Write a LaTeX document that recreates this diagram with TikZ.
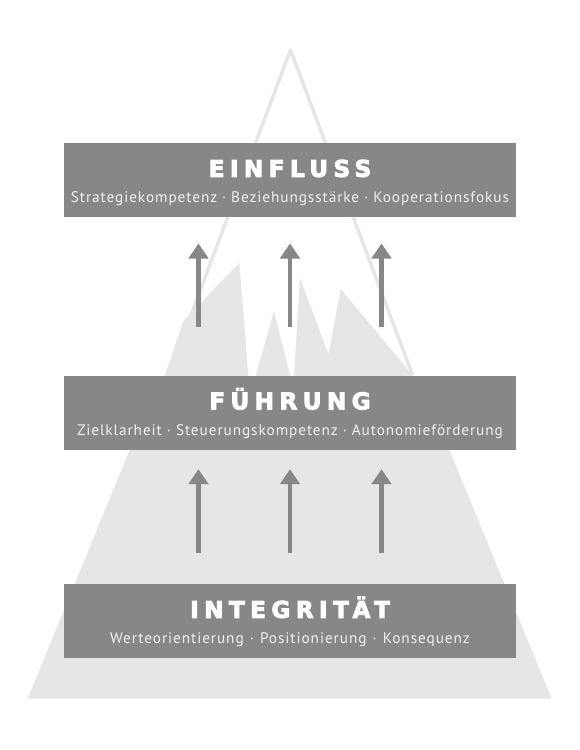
\documentclass[tikz,border=0pt]{standalone}
\usepackage{fontspec}
\usepackage{tikz}
\setmainfont{Liberation Sans}
\newfontfamily\headfont{DejaVu Sans}[LetterSpace=24,FakeBold=4]
\newfontfamily\subfont{PT Sans}[LetterSpace=6]
\definecolor{boxgray}{RGB}{135, 135, 135}
\definecolor{snowgray}{RGB}{230, 230, 230}
\definecolor{sublight}{RGB}{240, 240, 240}
\usetikzlibrary{arrows.meta,positioning,calc}

\begin{document}
\begin{tikzpicture}[
    x=1bp, y=-1bp,
    level/.style={
        rectangle,
        fill=boxgray,
        minimum width=452bp,
        minimum height=74bp,
        inner sep=0pt
    },
    leveltitle/.style={anchor=base, inner sep=0pt, text=white,
        font=\headfont\bfseries\fontsize{23bp}{27bp}\selectfont},
    levelsub/.style={anchor=base, inner sep=0pt, text=sublight,
        font=\subfont\fontsize{15.3bp}{18bp}\selectfont},
    uparrow/.style={-{Triangle[width=19.3bp,length=15bp]},line width=4.3bp,boxgray}
]
    \useasboundingbox (0,0) rectangle (580,750);

    % Mountain
    \draw[snowgray, line width=3.5bp, line join=round] (168.5,375) -- (290.5,50) -- (412.5,375);
    \fill[snowgray] (27.7,698.7) -- (551.7,698.7) -- (449,449) -- (412.5,375)
        -- (340.7,289) -- (328.5,354) -- (300,278.3) -- (293.2,388)
        -- (274,311) -- (250,396) -- (239.3,262.7) -- (183.3,321)
        -- (165,375) -- (130,449) -- cycle;

    % Levels
    \node[level] (einfluss) at (290,180) {};
    \node[level] (fuehrung) at (290,412.5) {};
    \node[level] (integritaet) at (290,621) {};

    % Labels
    \node[leveltitle] (einflusstitle) at ($(einfluss.north)+(0,34)$) {EINFLUSS};
    \node[levelsub] (einflusssub) at ($(einfluss.north)+(0,60)$)
        {Strategiekompetenz · Beziehungsstärke · Kooperationsfokus};
    \node[leveltitle] (fuehrungtitle) at ($(fuehrung.north)+(0,34)$) {FÜHRUNG};
    \node[levelsub] (fuehrungsub) at ($(fuehrung.north)+(0,60)$)
        {Zielklarheit · Steuerungskompetenz · Autonomieförderung};
    \node[leveltitle] (integritaettitle) at ($(integritaet.north)+(0,34)$) {INTEGRITÄT};
    \node[levelsub] (integritaetsub) at ($(integritaet.north)+(0,60)$)
        {Werteorientierung\hspace{0.4em}·\hspace{0.4em}Positionierung\hspace{0.4em}·\hspace{0.4em}Konsequenz};

    % Arrows
    \foreach \dx in {-91.5,0,91.5} {
        \draw[uparrow, shorten <=48.2bp, shorten >=26.3bp]
            ([xshift=\dx bp]fuehrung.north) -- ([xshift=\dx bp]einfluss.south);
        \draw[uparrow, shorten <=30.7bp, shorten >=19.5bp]
            ([xshift=\dx bp]integritaet.north) -- ([xshift=\dx bp]fuehrung.south);
    }
\end{tikzpicture}
\end{document}
